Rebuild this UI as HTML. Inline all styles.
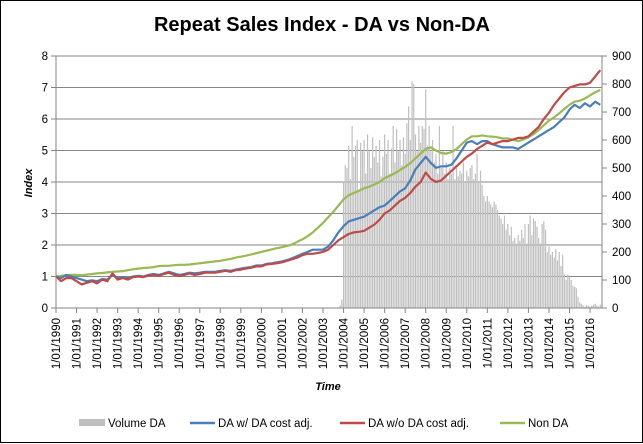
<!DOCTYPE html>
<html><head><meta charset="utf-8"><style>
html,body{margin:0;padding:0;background:#fff}
svg{display:block;font-family:"Liberation Sans",sans-serif}
</style></head><body>
<svg id="chart" width="643" height="444" viewBox="0 0 643 444">
<rect x="0.5" y="0.5" width="642" height="442" fill="#fff" stroke="#000" stroke-width="1"/>
<text x="322" y="31" text-anchor="middle" font-size="20" font-weight="bold" fill="#000">Repeat Sales Index - DA vs Non-DA</text>
<g id="grid"></g>
<g id="bars"></g>
<g id="lines"></g>
<g id="axes"></g>
<text x="0" y="0" transform="translate(32,183) rotate(-90)" text-anchor="middle" font-size="11" font-weight="bold" font-style="italic">Index</text>
<text x="328" y="390" text-anchor="middle" font-size="11" font-weight="bold" font-style="italic">Time</text>
<g font-size="11.5" fill="#000">
<g><rect x="79" y="419" width="26" height="7" fill="#bfbfbf"/><text x="108" y="427">Volume DA</text></g>
<g><line x1="190" y1="423" x2="215" y2="423" stroke="#4a7ebb" stroke-width="2.5"/><text x="218" y="427">DA w/ DA cost adj.</text></g>
<g><line x1="340" y1="423" x2="365" y2="423" stroke="#be4b48" stroke-width="2.5"/><text x="368" y="427">DA w/o DA cost adj.</text></g>
<g><line x1="500" y1="423" x2="525" y2="423" stroke="#98b954" stroke-width="2.5"/><text x="528" y="427">Non DA</text></g>
</g>
</svg>
<script>
const yearLabels = [1990,1991,1992,1993,1994,1995,1996,1997,1998,1999,2000,2001,2002,2003,2004,2005,2006,2007,2008,2009,2010,2011,2012,2013,2014,2015,2016];
const leftTicks = [0,1,2,3,4,5,6,7,8];
const rightTicks = [0,100,200,300,400,500,600,700,800,900];
// quarterly series starting 1990 Q1
const nonDA = [1.00,1.02,1.04,1.05, 1.05,1.04,1.06,1.08, 1.10,1.11,1.13,1.15, 1.16,1.17,1.20,1.23, 1.25,1.27,1.28,1.30, 1.33,1.34,1.34,1.36, 1.37,1.37,1.38,1.40, 1.42,1.44,1.46,1.48, 1.50,1.53,1.56,1.60, 1.63,1.66,1.70,1.74, 1.78,1.82,1.86,1.90, 1.93,1.97,2.02,2.10, 2.18,2.28,2.40,2.55, 2.70,2.88,3.05,3.25, 3.45,3.58,3.65,3.72, 3.80,3.85,3.92,4.00, 4.12,4.20,4.28,4.38, 4.48,4.60,4.75,4.90, 5.05,5.10,5.00,4.92, 4.90,4.95,5.05,5.20, 5.35,5.45,5.45,5.48, 5.45,5.44,5.42,5.38, 5.38,5.34,5.30,5.35, 5.42,5.52,5.65,5.80, 5.95,6.05,6.18,6.32, 6.45,6.55,6.58,6.65, 6.75,6.85,6.92];
const daWith = [1.00,0.95,1.05,1.00, 0.95,0.90,0.85,0.88, 0.85,0.92,0.90,1.05, 0.95,0.98,0.95,1.00, 1.02,1.00,1.05,1.08, 1.05,1.10,1.15,1.10, 1.05,1.08,1.12,1.10, 1.12,1.15,1.15,1.15, 1.18,1.20,1.18,1.22, 1.25,1.28,1.30,1.35, 1.35,1.40,1.42,1.45, 1.48,1.52,1.58,1.65, 1.72,1.78,1.85,1.85, 1.85,1.95,2.15,2.40, 2.60,2.75,2.80,2.85, 2.90,3.00,3.10,3.20, 3.25,3.40,3.55,3.70, 3.80,4.05,4.40,4.60, 4.80,4.60,4.45,4.50, 4.50,4.55,4.75,5.00, 5.25,5.30,5.20,5.30, 5.30,5.20,5.15,5.10, 5.10,5.10,5.05,5.15, 5.25,5.35,5.45,5.55, 5.65,5.75,5.90,6.05, 6.30,6.45,6.35,6.50, 6.40,6.55,6.45];
const daWithout = [1.00,0.85,0.95,0.95, 0.85,0.75,0.80,0.85, 0.78,0.90,0.85,1.10, 0.90,0.95,0.90,0.98, 1.00,0.98,1.03,1.05, 1.02,1.08,1.12,1.05, 1.02,1.05,1.10,1.05, 1.08,1.12,1.12,1.12, 1.15,1.18,1.15,1.20, 1.22,1.25,1.28,1.32, 1.32,1.38,1.40,1.42, 1.45,1.50,1.55,1.60, 1.68,1.72,1.72,1.75, 1.78,1.85,2.00,2.15, 2.25,2.35,2.40,2.42, 2.45,2.55,2.65,2.80, 3.00,3.10,3.25,3.40, 3.50,3.65,3.85,4.00, 4.30,4.10,4.00,4.05, 4.20,4.35,4.50,4.65, 4.80,4.90,5.05,5.15, 5.25,5.20,5.25,5.30, 5.30,5.35,5.40,5.40, 5.45,5.60,5.75,6.00, 6.20,6.45,6.65,6.85, 7.00,7.05,7.10,7.10, 7.15,7.35,7.55];
// monthly volume starting Nov 2003
const volumeStart = 2003 + 10/12;
const volume = [10,30,
450,510,500,580,460,650,540,580,600,420,590,560,
600,480,620,560,500,610,540,580,520,600,470,540,
620,550,600,480,570,650,520,640,560,600,510,610,
550,660,720,600,810,800,620,560,650,590,650,640,
780,580,650,560,600,520,550,480,650,500,560,480,
520,460,500,480,650,460,500,470,490,480,520,450,
490,470,500,510,460,480,550,450,490,440,400,380,
400,380,370,360,380,370,350,330,320,300,330,280,
300,260,290,240,250,230,260,240,280,250,300,230,
300,330,260,320,310,290,250,230,300,310,280,200,
220,190,200,180,210,170,200,150,190,120,100,120,
110,100,80,75,70,40,20,15,10,5,10,8,
5,8,12,15,10,5,12,8];

const NS='http://www.w3.org/2000/svg';
const L=56, R=602, T=56, B=308;
const x = t => L + (t-1990)*20.54;
const yL = v => B - v*(B-T)/8;
const yR = v => B - v*(B-T)/900;
function mk(tag, attrs, parent){const e=document.createElementNS(NS,tag);for(const k in attrs)e.setAttribute(k,attrs[k]);parent.appendChild(e);return e;}
const grid=document.getElementById('grid'), bars=document.getElementById('bars'), lines=document.getElementById('lines'), axes=document.getElementById('axes');

leftTicks.forEach(v=>{
  if(v>0){const g=mk('line',{x1:L,x2:R,y1:yL(v),y2:yL(v),stroke:'#868686','stroke-width':1},grid);
  
  }
  const tk=mk('line',{x1:L-5,x2:L,y1:yL(v),y2:yL(v),stroke:'#868686'},axes);
  
  
  const t=mk('text',{x:L-8,y:yL(v)+4,'text-anchor':'end','font-size':11.5},axes);
  t.textContent=v;
  
  
});
rightTicks.forEach(v=>{
  const tk=mk('line',{x1:R,x2:R+5,y1:yR(v),y2:yR(v),stroke:'#868686'},axes);
  
  
  const t=mk('text',{x:R+10,y:yR(v)+4,'font-size':11.5},axes);
  t.textContent=v;
  
  
});
const ax=mk('line',{x1:L,x2:L,y1:T,y2:B,stroke:'#868686'},axes);


const ax2=mk('line',{x1:R,x2:R,y1:T,y2:B,stroke:'#868686'},axes);


const xa=mk('line',{x1:L,x2:R,y1:B,y2:B,stroke:'#868686'},axes);


yearLabels.forEach(yr=>{
  const xx=x(yr);
  const tk=mk('line',{x1:xx,x2:xx,y1:B,y2:B+5,stroke:'#868686'},axes);
  
  
  const t=mk('text',{x:0,y:0,transform:`translate(${xx+4},${B+10}) rotate(-90)`,'text-anchor':'end','font-size':11.5},axes);
  t.textContent='1/01/'+yr;
  
  
});
volume.forEach((v,i)=>{
  const xx=x(volumeStart+i/12);
  const r=mk('rect',{x:xx-0.6,y:yR(v),width:1.2,height:B-yR(v),fill:'#bfbfbf'},bars);
  
  
});
function series(arr,color,name){
  const pts=arr.map((v,i)=>x(1990+i/4).toFixed(1)+','+yL(v).toFixed(1)).join(' ');
  const p=mk('polyline',{points:pts,fill:'none',stroke:color,'stroke-width':2.2,'stroke-linejoin':'round'},lines);
  
  
}
series(nonDA,'#98b954','series-non-da');
series(daWith,'#4a7ebb','series-da-with-adj');
series(daWithout,'#be4b48','series-da-without-adj');
</script>
</body></html>
